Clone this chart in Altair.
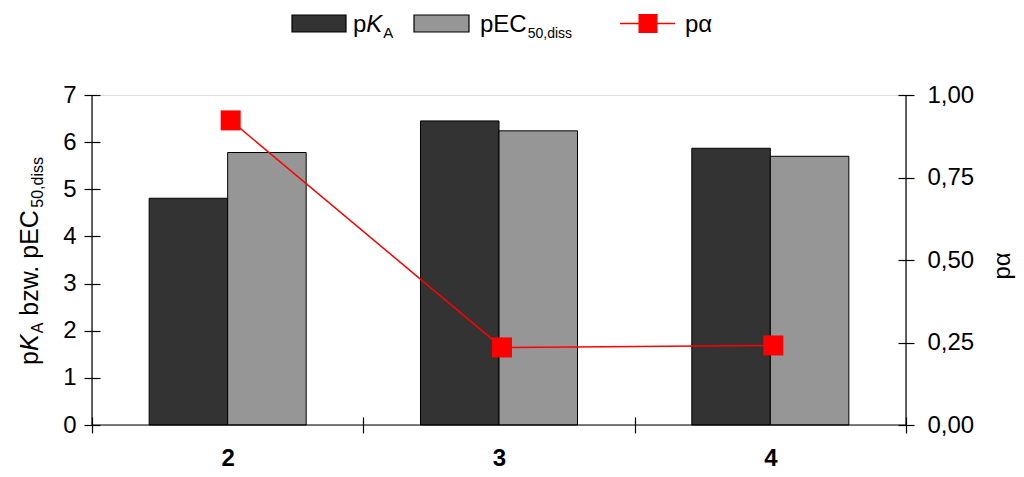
import altair as alt
import pandas as pd

# ---------------- data ----------------
categories = ["2", "3", "4"]
series = ["pKA", "pEC50,diss"]
pKA = [4.81, 6.45, 5.87]
pEC50 = [5.78, 6.24, 5.70]
palpha = [0.923, 0.235, 0.241]
left_ticks = [0, 1, 2, 3, 4, 5, 6, 7]
right_ticks = [0, 0.25, 0.5, 0.75, 1.0]
bar_colors = ["#333333", "#969696"]

W, H = 814, 330
FONT = "Liberation Sans"

bars_df = pd.DataFrame({
    "cat": categories * 2,
    "series": [series[0]] * 3 + [series[1]] * 3,
    "value": pKA + pEC50,
})
line_df = pd.DataFrame({"cat": categories, "palpha": palpha})
dummy = pd.DataFrame({"k": [0]})

# Arial / Liberation Sans advance widths (per 1000 em)
CW = {"p": 556, "K": 667, "A": 667, " ": 278, "b": 556, "z": 500, "w": 722,
      ".": 278, "E": 667, "C": 722, "5": 556, "0": 556, ",": 278, "d": 556,
      "i": 222, "s": 500}


def tw(s, size):
    return sum(CW.get(c, 556) for c in s) * size / 1000.0


def txt(s, x, y, size=24, style="normal", angle=0, align="left", weight="normal"):
    return alt.Chart(dummy).mark_text(
        text=s, fontSize=size, fontStyle=style, fontWeight=weight, angle=angle,
        align=align, baseline="alphabetic", font=FONT, color="black"
    ).encode(x=alt.value(x), y=alt.value(y))


MAIN, SUB = 24, 14
TMAIN, TSUB = 25, 16

# ---------------- main layers ----------------
axis_common = dict(
    tickColor="black", tickWidth=1.2, labelColor="black", labelFont=FONT,
    labelFontSize=24, grid=False, domain=False, tickSize=16, offset=-8,
)

bars = alt.Chart(bars_df).mark_bar(stroke="black", strokeWidth=1).encode(
    x=alt.X("cat:N", sort=categories,
            scale=alt.Scale(paddingInner=0, paddingOuter=0),
            axis=alt.Axis(title=None, tickBand="extent", labelAngle=0,
                          labelFontWeight="bold", labelPadding=13, **axis_common)),
    xOffset=alt.XOffset("series:N", sort=series,
                        scale=alt.Scale(paddingInner=0, paddingOuter=0.728)),
    y=alt.Y("value:Q", scale=alt.Scale(domain=[0, 7], nice=False),
            axis=alt.Axis(title=None, values=left_ticks, format="d", orient="left",
                          labelPadding=8, **axis_common)),
    color=alt.Color("series:N", scale=alt.Scale(domain=series, range=bar_colors),
                    legend=None),
)

line = alt.Chart(line_df).mark_line(
    color="#FF0000", strokeWidth=1.5, xOffset=3,
    point=alt.OverlayMarkDef(shape="square", size=400, color="#FF0000",
                             filled=True, opacity=1, xOffset=3),
).encode(
    x=alt.X("cat:N", sort=categories),
    y=alt.Y("palpha:Q", scale=alt.Scale(domain=[0, 1], nice=False),
            axis=alt.Axis(title=None, values=right_ticks, orient="right",
                          labelExpr="replace(format(datum.value, '.2f'), '.', ',')",
                          labelPadding=13, **axis_common)),
)

# ---------------- axis domain lines ----------------
dom_left = alt.Chart(dummy).mark_rule(color="black", strokeWidth=1.2).encode(
    x=alt.value(0), y=alt.value(0), y2=alt.value(H))
dom_right = alt.Chart(dummy).mark_rule(color="black", strokeWidth=1.2).encode(
    x=alt.value(W), y=alt.value(0), y2=alt.value(H))
dom_bottom = alt.Chart(dummy).mark_rule(color="black", strokeWidth=1.2).encode(
    x=alt.value(0), x2=alt.value(W), y=alt.value(H))

# ---------------- y-axis title with subscripts (rotated) ----------------
ytitle_pieces = [("p", TMAIN, "normal", False, 0), ("K", TMAIN, "italic", False, 0),
                 ("A", TSUB, "normal", True, 1),
                 ("bzw. pEC", TMAIN, "normal", False, tw(" ", TMAIN)),
                 ("50,diss", TSUB, "normal", True, 1)]
L = sum(tw(s, sz) + pre for s, sz, _, _, pre in ytitle_pieces)
y0 = H / 2 + 1 + L / 2
ylayers = []
off = 0
for s, sz, st, sub, pre in ytitle_pieces:
    off += pre
    ylayers.append(txt(s, -49 if sub else -54.5, y0 - off, size=sz, style=st, angle=270))
    off += tw(s, sz)

right_title = txt("pα", 918, 171, size=MAIN, angle=270, align="center")

# ---------------- legend ----------------
def box(x1, x2, color):
    return alt.Chart(dummy).mark_rect(fill=color, stroke="black", strokeWidth=1.2).encode(
        x=alt.value(x1), x2=alt.value(x2), y=alt.value(-80), y2=alt.value(-63))

LB, LS = -63, -57.5
leg = [
    box(200, 254, bar_colors[0]),
    txt("p", 261, LB), txt("K", 261 + tw("p", MAIN), LB, style="italic"),
    txt("A", 261 + tw("pK", MAIN) + 1, LS, size=SUB + 1),
    box(322, 377, bar_colors[1]),
    txt("pEC", 388, LB), txt("50,diss", 388 + tw("pEC", MAIN) + 1, LS, size=SUB),
    alt.Chart(dummy).mark_rule(color="#FF0000", strokeWidth=1.5).encode(
        x=alt.value(528), x2=alt.value(583), y=alt.value(-71.5)),
    alt.Chart(dummy).mark_point(shape="square", size=361, filled=True,
                                color="#FF0000", opacity=1).encode(
        x=alt.value(556), y=alt.value(-71.5)),
    txt("pα", 593, LB),
]

chart = alt.layer(
    bars, line, dom_left, dom_right, dom_bottom, *ylayers, right_title, *leg
).resolve_scale(y="independent").properties(
    width=W, height=H,
    padding={"left": 84, "top": 87, "right": 110, "bottom": 44},
    autosize=alt.AutoSizeParams(type="none"),
).configure_view(stroke=None).configure(font=FONT, background="white")

chart.save("out.html", embed_options={"renderer": "svg", "actions": False})
